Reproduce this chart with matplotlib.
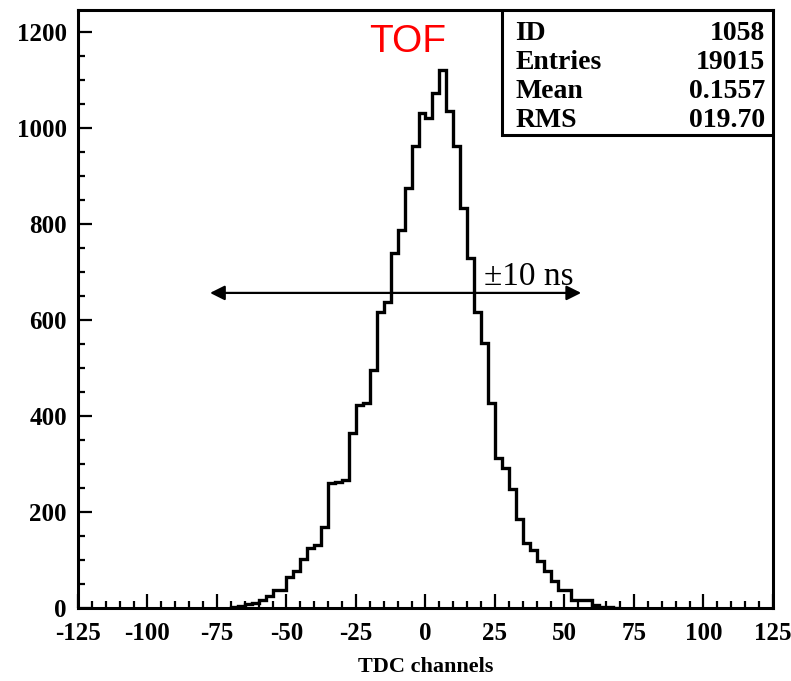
import numpy as np
import matplotlib
matplotlib.use("Agg")
import matplotlib.pyplot as plt
from matplotlib.patches import Rectangle

# histogram contents, 2.5 channel bins starting at -70
bin_start = -70.0
bin_width = 2.5
counts = [2, 4, 8, 10, 17, 24, 37, 37, 65, 76,
          103, 124, 131, 169, 260, 262, 267, 364, 423, 427,
          496, 617, 638, 739, 787, 874, 961, 1031, 1020, 1072,
          1121, 1034, 961, 833, 729, 617, 551, 426, 313, 292,
          248, 185, 135, 121, 98, 76, 57, 37, 37, 16,
          16, 16, 6, 3, 2, 1]

stat_names = ["ID", "Entries", "Mean", "RMS"]
stat_values = ["1058", "19015", "0.1557", "019.70"]

x_ticks = [-125, -100, -75, -50, -25, 0, 25, 50, 75, 100, 125]
y_ticks = [0, 200, 400, 600, 800, 1000, 1200]

arrow_x = (-77.5, 56.0)
arrow_y = 656

plt.rcParams['axes.unicode_minus'] = False
serif = ['Liberation Serif', 'DejaVu Serif']

fig = plt.figure(figsize=(7.91, 6.81), dpi=100)
ax = fig.add_axes([0.0986, 0.1072, 0.8786, 0.8781])

edges = bin_start + bin_width * np.arange(len(counts) + 1)
ax.stairs(counts, edges, color="black", linewidth=2.4, baseline=0)

ax.set_xlim(-125, 125)
ax.set_ylim(0, 1245)
ax.set_xticks(x_ticks)
ax.set_yticks(y_ticks)
ax.set_xticks(np.arange(-125, 126, 5), minor=True)
ax.set_yticks(np.arange(0, 1201, 50), minor=True)
ax.set_xticklabels([str(t) for t in x_ticks], fontfamily=serif, fontweight='bold', fontsize=18)
ax.set_yticklabels([str(t) for t in y_ticks], fontfamily=serif, fontweight='bold', fontsize=18)
ax.tick_params(which='both', direction='in', width=1.6, top=False, right=False)
ax.tick_params(which='major', length=10, pad=8)
ax.tick_params(axis='x', which='major', pad=10)
ax.tick_params(which='minor', length=5)
for s in ax.spines.values():
    s.set_linewidth(2.2)

ax.set_xlabel("TDC channels", fontfamily=serif, fontweight='bold', fontsize=16, labelpad=9)

# stats box
ax.add_patch(Rectangle((0.610, 0.791), 0.390, 0.209, transform=ax.transAxes,
                       facecolor='white', edgecolor='black', linewidth=2.2, zorder=3))
rows_y = [0.9615, 0.913, 0.8645, 0.816]
for name, val, yy in zip(stat_names, stat_values, rows_y):
    ax.text(0.629, yy, name, transform=ax.transAxes, ha='left', va='center',
            fontfamily=serif, fontweight='bold', fontsize=20, zorder=4)
    ax.text(0.9885, yy, val, transform=ax.transAxes, ha='right', va='center',
            fontfamily=serif, fontweight='bold', fontsize=20, zorder=4)

ax.text(-6.5, 1179, "TOF", color='red', ha='center', va='center',
        fontfamily=['Liberation Sans', 'DejaVu Sans'], fontsize=28)

ax.annotate("", xy=(arrow_x[0], arrow_y), xytext=(arrow_x[1], arrow_y),
            arrowprops=dict(arrowstyle='<|-|>', color='black', lw=1.6,
                            mutation_scale=22, shrinkA=0, shrinkB=0))
ax.text(21, 673, "\u00b110 ns", ha='left', va='baseline',
        fontfamily=serif, fontsize=24)

fig.savefig("out.png", dpi=100)
